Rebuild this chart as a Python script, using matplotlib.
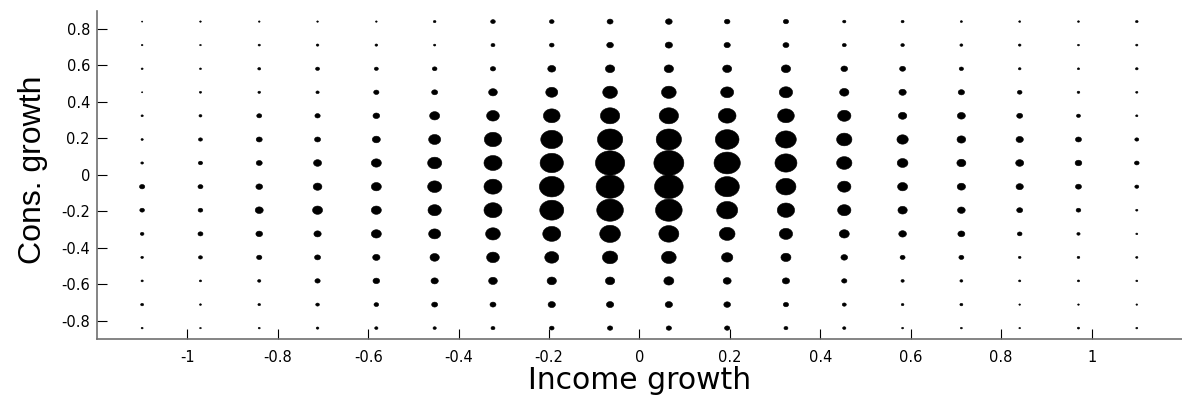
import matplotlib
matplotlib.use("Agg")
import matplotlib.pyplot as plt
import numpy as np

plt.rcParams['font.family'] = ['DejaVu Sans']

# bin centres
income = [-1.1, -0.971, -0.841, -0.712, -0.582, -0.453, -0.324, -0.194, -0.065,
          0.065, 0.194, 0.324, 0.453, 0.582, 0.712, 0.841, 0.971, 1.1]
cons = [0.841, 0.712, 0.582, 0.453, 0.324, 0.194, 0.065,
        -0.065, -0.194, -0.324, -0.453, -0.582, -0.712, -0.841]

# relative weight per cell (rows = cons, top to bottom; cols = income)
weight = [
    [1.3, 1.7, 1.7, 1.7, 1.7, 2.7, 4.7, 4.7, 6.0, 6.7, 5.6, 5.3, 3.3, 3.0, 2.2, 2.0, 2.0, 2.7],
    [1.7, 1.7, 2.3, 2.7, 2.7, 2.3, 4.0, 4.7, 6.7, 7.3, 6.3, 6.0, 4.0, 3.6, 3.0, 2.7, 2.0, 2.3],
    [2.0, 2.0, 3.0, 4.0, 4.0, 4.7, 5.3, 8.0, 9.3, 9.3, 9.0, 9.3, 6.7, 6.0, 4.3, 2.7, 2.3, 2.7],
    [1.3, 2.3, 2.7, 3.3, 5.3, 6.0, 8.7, 12.0, 14.7, 14.7, 13.0, 13.3, 9.3, 7.3, 6.3, 4.7, 2.7, 2.3],
    [2.3, 3.0, 5.0, 5.3, 6.7, 10.0, 12.7, 16.7, 19.3, 19.3, 17.7, 16.7, 13.3, 8.4, 8.0, 6.0, 4.0, 2.3],
    [2.3, 4.0, 6.0, 6.0, 8.0, 12.0, 17.3, 22.0, 25.3, 25.3, 23.7, 20.7, 15.3, 11.3, 8.7, 7.3, 6.0, 4.0],
    [2.7, 4.3, 6.0, 8.0, 10.0, 14.0, 18.0, 23.3, 29.3, 30.0, 26.3, 22.0, 15.3, 10.7, 9.0, 8.0, 6.7, 4.7],
    [5.3, 5.0, 6.7, 8.7, 10.0, 14.0, 18.0, 24.7, 28.0, 28.7, 24.3, 20.0, 13.3, 10.0, 8.3, 7.3, 6.0, 4.0],
    [4.7, 4.7, 8.0, 10.0, 10.0, 13.3, 18.0, 24.0, 26.7, 26.7, 21.0, 17.3, 13.3, 9.3, 7.7, 6.0, 4.7, 2.3],
    [3.7, 5.0, 6.7, 7.3, 10.0, 12.0, 14.7, 18.0, 20.7, 20.0, 15.7, 13.3, 10.0, 7.7, 7.0, 4.7, 3.3, 2.0],
    [2.7, 4.0, 5.3, 6.0, 7.3, 9.3, 12.7, 14.0, 15.3, 14.7, 11.3, 10.0, 6.7, 5.0, 5.0, 2.7, 2.7, 2.3],
    [2.3, 2.3, 3.3, 5.3, 6.7, 7.3, 8.7, 9.3, 9.3, 10.0, 8.0, 7.3, 5.3, 3.3, 3.0, 2.3, 2.3, 2.0],
    [3.0, 2.0, 2.7, 3.7, 4.7, 6.0, 6.0, 7.3, 7.3, 7.3, 6.7, 5.3, 4.0, 2.7, 3.0, 1.7, 1.7, 1.7],
    [2.0, 1.7, 2.0, 2.7, 3.3, 3.3, 4.0, 4.7, 5.3, 5.3, 5.3, 4.0, 3.3, 2.0, 2.0, 1.7, 2.3, 2.0],
]

xticks = [-1, -0.8, -0.6, -0.4, -0.2, 0, 0.2, 0.4, 0.6, 0.8, 1]
yticks = [-0.8, -0.6, -0.4, -0.2, 0, 0.2, 0.4, 0.6, 0.8]

X, Y = np.meshgrid(income, cons)
W = np.array(weight)

# flattened ellipse marker (wider than tall)
t = np.linspace(0, 2 * np.pi, 60)
ell = np.column_stack([np.cos(t), 0.83 * np.sin(t)])

fig = plt.figure(figsize=(11.82, 4.01), dpi=100)
ax = fig.add_axes([0.082, 0.155, 0.918, 0.818])
ax.scatter(X.ravel(), Y.ravel(), s=(W.ravel() * 0.72) ** 2, marker=ell,
           c='black', edgecolors='black', linewidths=0.4)

ax.set_xlim(-1.2, 1.2)
ax.set_ylim(-0.9, 0.9)
ax.set_xticks(xticks)
ax.set_xticklabels([f'{v:g}' for v in xticks])
ax.set_yticks(yticks)
ax.set_yticklabels([f'{v:g}' for v in yticks])
ax.tick_params(direction='in', length=7, width=0.8, labelsize=10.5, color='black')
ax.tick_params(axis='x', pad=8)
ax.tick_params(axis='y', pad=5)

for s in ['top', 'right']:
    ax.spines[s].set_visible(False)
for s in ['left', 'bottom']:
    ax.spines[s].set_color('#707070')
    ax.spines[s].set_linewidth(1.2)

ax.set_xlabel('Income growth', fontsize=21.5, labelpad=1)
ax.set_ylabel('Cons. growth', fontsize=23, family=['Liberation Sans', 'DejaVu Sans'])
ax.yaxis.set_label_coords(-0.045, 0.515)

fig.savefig('out.png', dpi=100)
